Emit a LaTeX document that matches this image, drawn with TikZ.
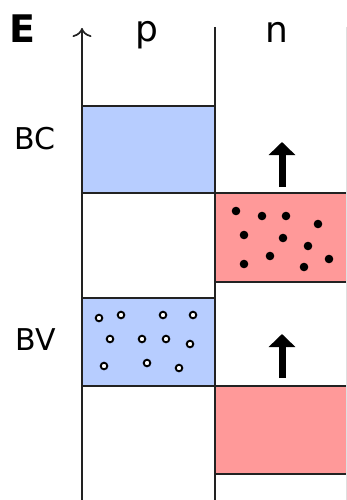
\documentclass[tikz,border=0pt]{standalone}
\usepackage{fontspec}
\setmainfont{DejaVu Sans}
\usetikzlibrary{arrows.meta}
\definecolor{bandblue}{RGB}{183,205,255}
\definecolor{bandred}{RGB}{255,153,153}
\definecolor{edgegray}{RGB}{34,34,34}

\begin{document}
\begin{tikzpicture}[x=1pt, y=-1pt,
    edge/.style={draw=edgegray, line width=1.7pt},
    pband/.style={fill=bandblue},
    nband/.style={fill=bandred},
    lab/.style={font=\fontsize{30}{36}\selectfont, inner sep=0pt, anchor=base},
    col/.style={lab, font=\fontsize{36}{42}\selectfont},
    elec/.style={fill=black},
    hole/.style={draw=black, fill=white, line width=1.9pt},
    up/.style={line width=7pt, -{Triangle[length=13pt, width=26pt]}}]
  \useasboundingbox (0,0) rectangle (347,500);
  % bands of the p side
  \fill[pband] (82,106) rectangle (215,193);
  \fill[pband] (82,298) rectangle (215,386);
  % bands of the n side
  \fill[nband] (215,193) rectangle (347,282);
  \fill[nband] (215,386) rectangle (347,474);
  \draw[edge] (82,106) -- (215,106) (82,193) -- (215,193);
  \draw[edge] (82,298) -- (215,298) (82,386) -- (215,386);
  \draw[edge] (215,193) -- (347,193) (215,282) -- (347,282);
  \draw[edge] (215,386) -- (347,386) (215,474) -- (347,474);
  % axis and column edges
  \draw[edge, -{To[length=9pt, width=19pt]}] (82,500) -- (82,28);
  \draw[edge] (215,27) -- (215,500);
  \draw[gray!25, line width=1pt] (346,27) -- (346,500);
  % carriers
  \foreach \px/\py in {236/211, 262/216, 286/216, 318/224, 244/235, 283/238,
                       308/246, 270/256, 329/259, 244/264, 304/267}
    \fill[elec] (\px,\py) circle (4.3);
  \foreach \px/\py in {99/318, 121/315, 163/315, 193/315, 110/339, 142/339,
                       166/339, 190/344, 104/366, 147/363, 179/368}
    \draw[hole] (\px,\py) circle (3.3);
  % shifts
  \coordinate (s1) at (282,187);
  \coordinate (s1t) at (282,142);
  \coordinate (s2) at (282,378);
  \coordinate (s2t) at (282,334);
  \draw[up] (s1) -- (s1t);
  \draw[up] (s2) -- (s2t);
  % labels
  \node[font=\fontsize{38}{46}\selectfont\bfseries, inner sep=0pt] (E) at (22,29) {E};
  \node[col] (p) at (147,42) {p};
  \node[col] (n) at (277,43) {n};
  \node[lab] (bc) at (35,149) {BC};
  \node[lab] (bv) at (36,350) {BV};
\end{tikzpicture}
\end{document}
